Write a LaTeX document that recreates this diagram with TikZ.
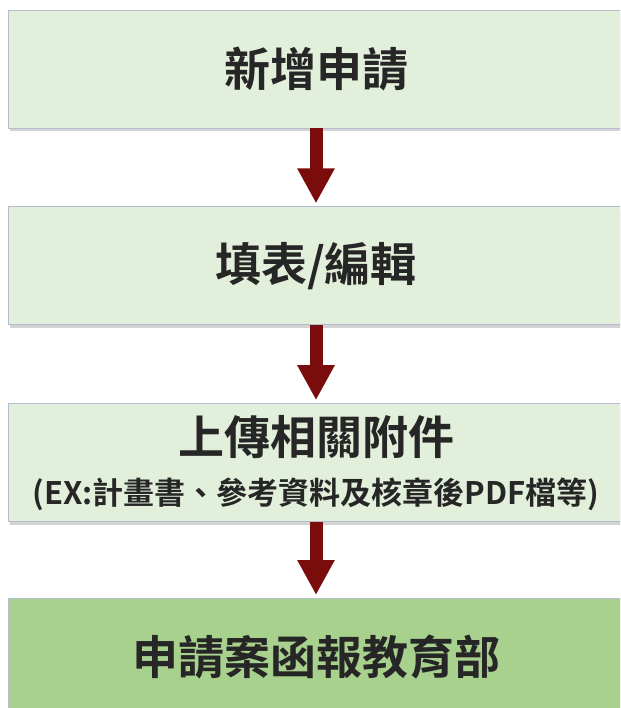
\documentclass[tikz,border=0pt]{standalone}
\usepackage{fontspec}
\setmainfont{Noto Sans CJK TC}[BoldFont={* Bold}]
\usepackage{tikz}
\usetikzlibrary{arrows.meta,shadows}
\usetikzlibrary{positioning}
\definecolor{boxgreen}{HTML}{E2EFDA}
\definecolor{donegreen}{HTML}{A9D18E}
\definecolor{boxline}{HTML}{B4BCD0}
\definecolor{arrowred}{HTML}{7A0C0C}
\definecolor{textgray}{HTML}{262626}
\tikzstyle{stepbox} = [draw=boxline, line width=0.8pt, fill=boxgreen,
minimum width=616pt, minimum height=118pt, inner sep=0pt, align=center,
text=textgray, font=\bfseries\fontsize{46}{52}\selectfont,
drop shadow={shadow xshift=1.5pt, shadow yshift=-3pt, opacity=0.35}]
\tikzstyle{line} = [draw=arrowred, line width=13pt,
-{Triangle[width=35pt,length=35pt]}, shorten >=3pt]

\begin{document}
\begin{tikzpicture}[x=1pt, y=1pt, node distance=78pt]
    \useasboundingbox (0,0) rectangle (620,-708);
    \clip (0,0) rectangle (620,-708);
    \node [stepbox] (new) at (316,-69) {新增申請};
    \node [stepbox, below=of new] (edit) {填表/編輯};
    \node [stepbox, below=of edit] (upload) {上傳相關附件\\[-2pt]
        {\fontsize{31}{36}\selectfont (EX:計畫書、參考資料及核章後PDF檔等)}};
    \node [stepbox, below=76pt of upload, fill=donegreen] (submit) {申請案函報教育部};
	%% Arrows
	\path [line] (new) -- (edit);
	\path [line] (edit) -- (upload);
	\path [line] (upload) -- (submit);
\end{tikzpicture}
\end{document}
